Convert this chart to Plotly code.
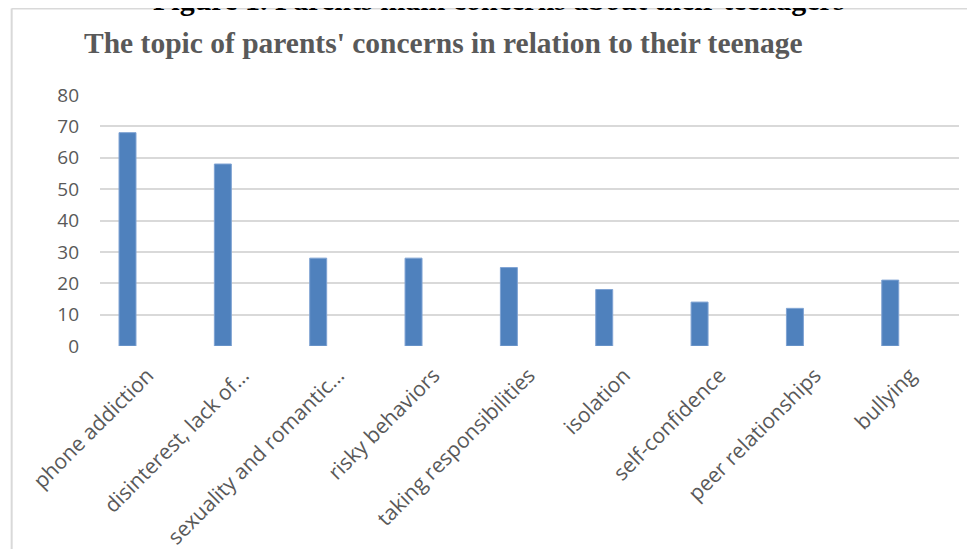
import plotly.graph_objects as go

categories = ["phone addiction", "disinterest, lack of…", "sexuality and romantic…",
              "risky behaviors", "taking responsibilities", "isolation",
              "self-confidence", "peer relationships", "bullying"]
values = [68, 58, 28, 28, 25, 18, 14, 12, 21]
y_ticks = [0, 10, 20, 30, 40, 50, 60, 70, 80]

# page has an 8px body margin; work in page pixels and convert
OFF = 8
W, H = 975 - OFF, 549 - OFF
PL, PR, PT, PB = 100, 958.7, 95, 345.7   # plot area in page pixels
L, T = PL - OFF, PT - OFF
R = W - (PR - OFF)
B = H - (PB - OFF)
pw, ph = PR - PL, PB - PT

def px(x):
    return (x - PL) / pw

def py(y):
    return (PB - y) / ph

fig = go.Figure()
fig.add_trace(go.Bar(
    x=list(range(len(categories))), y=values, width=0.178,
    marker=dict(color="#4F81BD", line=dict(color="#7FA3D3", width=1)),
))

fig.update_layout(
    width=W, height=H,
    margin=dict(l=L, r=R, t=T, b=B, pad=0, autoexpand=False),
    paper_bgcolor="white", plot_bgcolor="white",
    showlegend=False,
    font=dict(family="Open Sans", color="#595959", size=19),
    xaxis=dict(
        range=[-0.2885, 8.721], tickmode="array",
        tickvals=list(range(len(categories))), ticktext=categories,
        tickangle=-45, showgrid=False, zeroline=False, automargin=False,
        showline=False, ticks="", ticklabelshift=20, ticklabelstandoff=12,
        tickfont=dict(family="Open Sans", size=21, color="#595959"),
    ),
    yaxis=dict(
        range=[0, 80], tickvals=y_ticks, showgrid=True, automargin=False,
        gridcolor="#D9D9D9", gridwidth=1.5, zeroline=False, showline=False,
        ticks="", ticklabelstandoff=20,
        tickfont=dict(family="Open Sans", size=19, color="#595959"),
    ),
    shapes=[
        dict(type="line", xref="paper", yref="paper", x0=px(11.7), x1=px(11.7),
             y0=py(8.5), y1=py(560), line=dict(color="#D9D9D9", width=2)),
        dict(type="line", xref="paper", yref="paper", x0=px(11.7), x1=px(990),
             y0=py(8.5), y1=py(8.5), line=dict(color="#D9D9D9", width=2)),
    ],
    annotations=[
        dict(text="<b>The topic of parents' concerns in relation to their teenage</b>",
             xref="paper", yref="paper", x=px(82), y=py(43), xanchor="left",
             yanchor="middle", showarrow=False,
             font=dict(family="Liberation Serif", size=29.5, color="#595959")),
        dict(text="<b>Figure 1. Parents main concerns about their teenagers</b>",
             xref="paper", yref="paper", x=px(499), y=py(-0.5), xanchor="center",
             yanchor="middle", showarrow=False,
             font=dict(family="Liberation Serif", size=30, color="#000000")),
    ],
)

fig.write_html("out.html")
